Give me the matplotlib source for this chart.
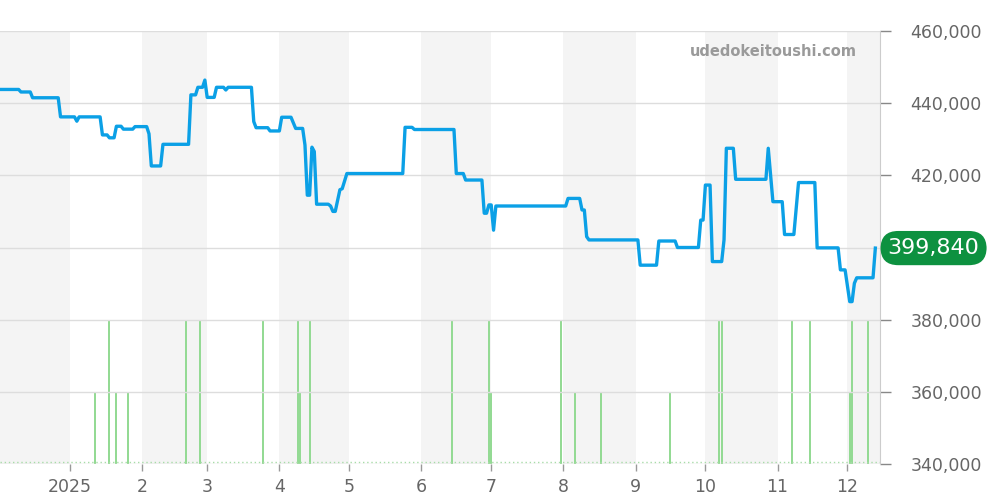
import matplotlib
matplotlib.use("Agg")
import matplotlib.pyplot as plt
import matplotlib.dates as mdates
import matplotlib.ticker as mticker
import pandas as pd

# ---------------- data ----------------
price_dates = [
    "2024-12-02", "2024-12-10", "2024-12-11", "2024-12-15", "2024-12-16", "2024-12-27",
    "2024-12-28", "2025-01-03", "2025-01-04", "2025-01-05", "2025-01-14", "2025-01-15",
    "2025-01-17", "2025-01-18", "2025-01-20", "2025-01-21", "2025-01-23", "2025-01-24",
    "2025-01-28", "2025-01-29", "2025-02-03", "2025-02-04", "2025-02-05", "2025-02-09",
    "2025-02-10", "2025-02-21", "2025-02-22", "2025-02-24", "2025-02-25", "2025-02-27",
    "2025-02-28", "2025-03-01", "2025-03-04", "2025-03-05", "2025-03-08", "2025-03-09",
    "2025-03-10", "2025-03-20", "2025-03-21", "2025-03-22", "2025-03-27", "2025-03-28",
    "2025-04-01", "2025-04-02", "2025-04-06", "2025-04-08", "2025-04-11", "2025-04-12",
    "2025-04-13", "2025-04-14", "2025-04-15", "2025-04-16", "2025-04-17", "2025-04-22",
    "2025-04-23", "2025-04-24", "2025-04-25", "2025-04-27", "2025-04-28", "2025-04-30",
    "2025-05-24", "2025-05-25", "2025-05-28", "2025-05-29", "2025-06-15", "2025-06-16",
    "2025-06-19", "2025-06-20", "2025-06-27", "2025-06-28", "2025-06-29", "2025-06-30",
    "2025-07-01", "2025-07-02", "2025-07-03", "2025-08-02", "2025-08-03", "2025-08-08",
    "2025-08-09", "2025-08-10", "2025-08-11", "2025-08-12", "2025-09-02", "2025-09-03",
    "2025-09-10", "2025-09-11", "2025-09-18", "2025-09-19", "2025-09-28", "2025-09-29",
    "2025-09-30", "2025-10-01", "2025-10-03", "2025-10-04", "2025-10-08", "2025-10-09",
    "2025-10-10", "2025-10-13", "2025-10-14", "2025-10-27", "2025-10-28", "2025-10-30",
    "2025-11-03", "2025-11-04", "2025-11-08", "2025-11-10", "2025-11-17", "2025-11-18",
    "2025-11-27", "2025-11-28", "2025-11-30", "2025-12-02", "2025-12-03", "2025-12-04",
    "2025-12-05", "2025-12-12", "2025-12-13",
]
price_values = [
    443800, 443800, 443100, 443100, 441500, 441500,
    436200, 436200, 435000, 436200, 436200, 431200,
    431200, 430400, 430400, 433600, 433600, 432800,
    432800, 433500, 433500, 431500, 422600, 422600,
    428600, 428600, 442300, 442300, 444400, 444400,
    446400, 441600, 441600, 444400, 444400, 443650,
    444400, 444400, 434900, 433200, 433200, 432300,
    432300, 436100, 436100, 433000, 433000, 428400,
    414500, 414500, 427800, 426600, 412000, 412000,
    411500, 410000, 410000, 416000, 416300, 420500,
    420500, 433300, 433300, 432700, 432700, 420500,
    420500, 418700, 418700, 409500, 409500, 411800,
    411800, 404800, 411500, 411500, 413600, 413600,
    410400, 410400, 403000, 402100, 402100, 395100,
    395100, 401800, 401800, 400000, 400000, 407600,
    407600, 417300, 417300, 396100, 396100, 402100,
    427500, 427500, 418900, 418900, 427500, 412700,
    412700, 403600, 403600, 418000, 418000, 399900,
    399900, 393800, 393800, 385000, 385000, 390100,
    391600, 391600, 399840,
]

volume_dates = [
    "2025-01-12", "2025-01-18", "2025-01-21", "2025-01-26", "2025-02-20", "2025-02-26",
    "2025-03-25", "2025-04-09", "2025-04-10", "2025-04-14", "2025-06-14", "2025-06-30",
    "2025-07-01", "2025-07-31", "2025-08-06", "2025-08-17", "2025-09-16", "2025-10-07",
    "2025-10-08", "2025-11-07", "2025-11-15", "2025-12-02", "2025-12-03", "2025-12-10",
]
volume_counts = [1, 2, 1, 1, 2, 2, 2, 2, 1, 2, 2, 2, 1, 2, 1, 1, 1, 2, 2, 2, 2, 1, 2, 2]

month_starts = [
    "2024-12-01", "2025-01-01", "2025-02-01", "2025-03-01", "2025-04-01", "2025-05-01",
    "2025-06-01", "2025-07-01", "2025-08-01", "2025-09-01", "2025-10-01", "2025-11-01",
    "2025-12-01", "2026-01-01",
]
month_labels = ["2025", "2", "3", "4", "5", "6", "7", "8", "9", "10", "11", "12"]
y_ticks = [340000, 360000, 380000, 400000, 420000, 440000, 460000]
last_price = 399840
watermark = "udedokeitoushi.com"

# ---------------- plot ----------------
plt.rcParams["font.family"] = ["DejaVu Sans"]
fig = plt.figure(figsize=(10, 5), dpi=100)
ax = fig.add_axes([0.0, 0.072, 0.88, 0.866])

pd_dates = pd.to_datetime(price_dates)
ms = pd.to_datetime(month_starts)
ref = mdates.date2num(pd.Timestamp("2025-01-01"))
xlim = (ref - 30.0, ref + 348.0)

# background axis: month bands and volume bars
ax2 = ax.twinx()
ax2.set_xlim(xlim)
ax2.set_ylim(0, 6)
for i in range(0, len(ms) - 1, 2):
    ax2.axvspan(ms[i], ms[i + 1], color="#f4f4f4", lw=0, zorder=0)
ax2.bar(pd.to_datetime(volume_dates), volume_counts, width=0.85,
        color="#94da94", zorder=2)
ax2.axhline(0.03, color="#a8dca8", lw=1.0, ls=(0, (1, 2)), zorder=2)
ax2.set_yticks([])
for s in ax2.spines.values():
    s.set_visible(False)
ax2.patch.set_facecolor("white")

# main axis on top
ax.set_zorder(ax2.get_zorder() + 1)
ax.patch.set_visible(False)
ax.set_xlim(xlim)
ax.set_ylim(340000, 460000)

ax.set_yticks(y_ticks)
ax.grid(axis="y", color="#dddddd", lw=1, zorder=1)
ax.yaxis.tick_right()
ax.yaxis.set_major_formatter(mticker.FuncFormatter(lambda v, p: f"{int(v):,}"))
ax.tick_params(axis="y", colors="#888888", labelcolor="#666666", labelsize=12.5,
               length=8, width=1, pad=14, left=False, labelleft=False,
               right=True, labelright=True)

ax.set_xticks(ms[1:13])
ax.set_xticklabels(month_labels)
ax.tick_params(axis="x", colors="#999999", labelcolor="#666666", labelsize=12.5,
               length=5, width=1, pad=5)

for s in ["top", "left", "bottom"]:
    ax.spines[s].set_visible(False)
ax.spines["right"].set_color("#cccccc")

# price line
ax.plot(pd_dates, price_values, color="#0ba0e6", lw=2.4, zorder=5,
        solid_joinstyle="round")

# last price label
ax.annotate(f"{last_price:,}", xy=(1.0, last_price),
            xycoords=("axes fraction", "data"), xytext=(5.5, 0),
            textcoords="offset points", ha="left", va="center",
            color="white", fontsize=16, annotation_clip=False, zorder=10,
            bbox=dict(boxstyle="round,pad=0.32,rounding_size=0.8",
                      fc="#0d9140", ec="none"))

# watermark
ax.text(0.974, 454200, watermark, transform=ax.get_yaxis_transform(),
        ha="right", va="center", color="#9a9a9a", fontsize=10.5,
        fontweight="bold", zorder=6)

fig.savefig("out.png", dpi=100)
